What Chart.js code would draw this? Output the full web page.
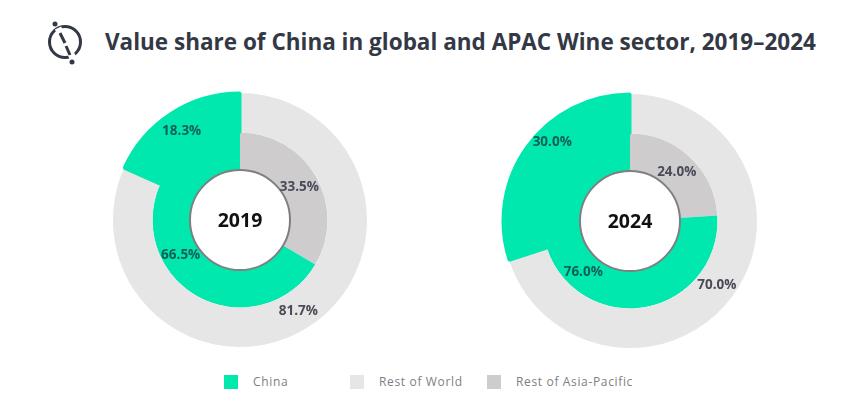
<!DOCTYPE html>
<html>
<head>
<meta charset="utf-8">
<title>Value share of China in global and APAC Wine sector</title>
<script src="https://cdn.jsdelivr.net/npm/chart.js@4"></script>
<style>
  html, body { margin: 0; padding: 0; background: #fff; }
  body { position: relative; width: 849px; height: 420px; overflow: hidden; font-family: "Open Sans", sans-serif; }
  #logo { position: absolute; left: 40px; top: 18px; }
  #title { position: absolute; left: 105px; top: 26px; font-size: 22.5px; font-weight: 700; color: #333845; white-space: nowrap; line-height: 32px; }
  canvas { position: absolute; }
  #chart2019 { left: 109px; top: 89px; }
  #chart2024 { left: 499px; top: 90px; }
  .swatch { position: absolute; top: 375px; width: 14px; height: 14px; }
  .legend-label { position: absolute; top: 373px; font-size: 12px; line-height: 17px; letter-spacing: 0.65px; color: #808080; white-space: nowrap; }
</style>
</head>
<body>
<svg id="logo" width="50" height="50" viewBox="0 0 50 50">
  <circle cx="25" cy="24" r="15.5" fill="none" stroke="#333845" stroke-width="3"></circle>
  <line x1="18" y1="10" x2="25" y2="24" stroke="#fff" stroke-width="7"></line>
  <line x1="26" y1="26" x2="33" y2="40" stroke="#fff" stroke-width="7"></line>
  <line x1="20" y1="15" x2="25" y2="25" stroke="#333845" stroke-width="3"></line>
  <line x1="26" y1="28" x2="30" y2="37" stroke="#333845" stroke-width="3"></line>
  <circle cx="15" cy="6" r="2.5" fill="#333845"></circle>
  <circle cx="32" cy="44" r="2.5" fill="#333845"></circle>
</svg>
<div id="title">Value share of China in global and APAC Wine sector, 2019–2024</div>
<canvas id="chart2019" width="262" height="262"></canvas>
<canvas id="chart2024" width="262" height="262"></canvas>
<div id="legend"></div>

<script>
  const YEARS = ['2019', '2024'];
  const CATEGORIES = ['China', 'Rest of World', 'Rest of Asia-Pacific'];

  // Outer ring: share of global wine value
  const GLOBAL_REST = [81.7, 70.0];
  const GLOBAL_CHINA = [18.3, 30.0];
  // Inner ring: share of APAC wine value
  const APAC_REST = [33.5, 24.0];
  const APAC_CHINA = [66.5, 76.0];

  const GREEN = '#00E8AE';
  const GREY_LIGHT = '#E6E6E6';
  const GREY_MID = '#CECCCD';
  const HOLE_RADIUS = 50;
  const OUTER_RADIUS = 127;

  const LEGEND_COLORS = [GREEN, GREY_LIGHT, GREY_MID];
  const LEGEND_SWATCH_X = [224, 350, 487];
  const LEGEND_TEXT_X = [253, 379, 516];

  // The 30.0% label sits off its slice centre in the original
  function labelShift(year, ring, slice) {
    if (year === '2024' && ring === 0 && slice === 1) return { x: 9, y: -17 };
    return { x: 0, y: 0 };
  }

  const donutLabels = {
    id: 'donutLabels',
    afterDatasetsDraw(chart, args, opts) {
      const ctx = chart.ctx;
      const first = chart.getDatasetMeta(0).data[0];
      const cx = first.x;
      const cy = first.y;

      ctx.save();
      // hole ring
      ctx.beginPath();
      ctx.arc(cx, cy, HOLE_RADIUS, 0, Math.PI * 2);
      ctx.fillStyle = '#fff';
      ctx.fill();
      ctx.lineWidth = 2;
      ctx.strokeStyle = '#7f7f7f';
      ctx.stroke();

      ctx.textAlign = 'center';
      ctx.textBaseline = 'middle';
      ctx.fillStyle = '#111';
      ctx.font = '700 19.5px "Open Sans"';
      ctx.fillText(opts.year, cx, cy + 1);

      ctx.font = '700 13.5px "Open Sans"';
      chart.data.datasets.forEach((ds, ring) => {
        chart.getDatasetMeta(ring).data.forEach((arc, slice) => {
          const p = arc.getCenterPoint();
          const shift = labelShift(opts.year, ring, slice);
          ctx.fillStyle = slice === 1 ? '#0f5f56' : '#4a4a58';
          ctx.fillText(ds.data[slice].toFixed(1) + '%', p.x + shift.x, p.y + shift.y + 1);
        });
      });
      ctx.restore();
    },
  };

  function createDonut(canvasId, i) {
    const canvas = document.getElementById(canvasId);
    return new Chart(canvas.getContext('2d'), {
      type: 'doughnut',
      data: {
        labels: [CATEGORIES[1], CATEGORIES[0]],
        datasets: [
          {
            data: [GLOBAL_REST[i], GLOBAL_CHINA[i]],
            backgroundColor: [GREY_LIGHT, GREEN],
            // green border makes the outer wedge stand a little proud and hides the seam
            borderColor: [GREY_LIGHT, GREEN],
            borderWidth: [0, 3],
            hoverOffset: 0,
            weight: 39,
          },
          {
            data: [APAC_REST[i], APAC_CHINA[i]],
            backgroundColor: [GREY_MID, GREEN],
            borderWidth: 0,
            hoverOffset: 0,
            weight: 38,
          },
        ],
      },
      options: {
        responsive: false,
        animation: false,
        devicePixelRatio: 1,
        cutout: HOLE_RADIUS,
        radius: OUTER_RADIUS,
        events: [],
        plugins: {
          legend: { display: false },
          tooltip: { enabled: false },
          donutLabels: { year: YEARS[i] },
        },
      },
      plugins: [donutLabels],
    });
  }

  function buildLegend() {
    const root = document.getElementById('legend');
    CATEGORIES.forEach((name, i) => {
      const swatch = document.createElement('div');
      swatch.className = 'swatch';
      swatch.style.left = LEGEND_SWATCH_X[i] + 'px';
      swatch.style.background = LEGEND_COLORS[i];
      root.appendChild(swatch);

      const label = document.createElement('div');
      label.className = 'legend-label';
      label.style.left = LEGEND_TEXT_X[i] + 'px';
      label.textContent = name;
      root.appendChild(label);
    });
  }

  createDonut('chart2019', 0);
  createDonut('chart2024', 1);
  buildLegend();
</script>
</body>
</html>
